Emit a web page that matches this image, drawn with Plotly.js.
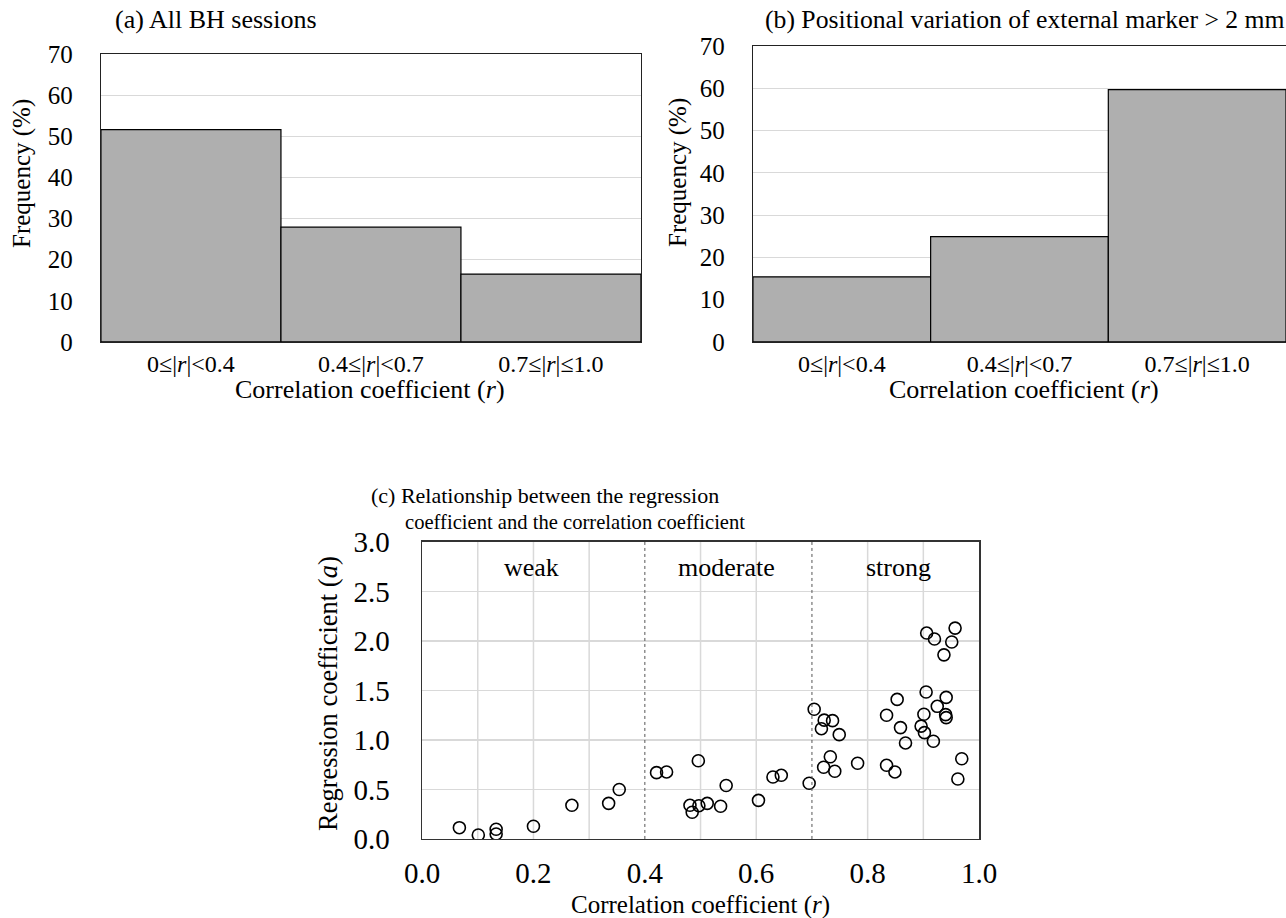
<!DOCTYPE html>
<html>
<head>
<meta charset="utf-8">
<script src="https://cdn.plot.ly/plotly-3.0.1.min.js"></script>
<style>html,body{margin:0;padding:0;background:#fff;}#chart{width:1286px;height:918px;}</style>
</head>
<body>
<div id="chart"></div>
<script>
// ---- data ----
var categories = ["0≤|<i>r</i>|&lt;0.4", "0.4≤|<i>r</i>|&lt;0.7", "0.7≤|<i>r</i>|≤1.0"];
var freqAll = [51.6, 27.9, 16.5];
var freqMarker = [15.4, 24.9, 59.7];
var corrR = [0.067,0.101,0.133,0.133,0.200,0.269,0.335,0.354,0.421,0.439,0.496,0.481,0.485,0.497,0.512,0.546,0.536,0.604,0.630,0.645,0.695,0.704,0.722,0.737,0.717,0.733,0.721,0.741,
             0.749,0.782,0.834,0.853,0.859,0.868,0.834,0.849,0.906,0.920,0.957,0.951,0.937,0.905,0.941,0.925,0.901,0.940,0.941,0.896,0.902,0.918,0.969,0.962];
var regA = [0.114,0.040,0.098,0.050,0.128,0.340,0.360,0.500,0.670,0.677,0.790,0.340,0.270,0.336,0.360,0.540,0.330,0.390,0.626,0.643,0.563,1.310,1.200,1.195,1.114,0.830,0.724,0.684,
            1.054,0.765,1.250,1.410,1.125,0.970,0.744,0.677,2.080,2.020,2.130,1.990,1.860,1.485,1.430,1.340,1.260,1.256,1.226,1.140,1.074,0.987,0.810,0.606];
var freqTicks = [0,10,20,30,40,50,60,70];
var rTicks = [0,0.2,0.4,0.6,0.8,1.0];
var rTickText = ["0.0","0.2","0.4","0.6","0.8","1.0"];
var aTicks = [0,0.5,1,1.5,2,2.5,3];
var aTickText = ["0.0","0.5","1.0","1.5","2.0","2.5","3.0"];
var bounds = [0.4, 0.7];
var zoneLabels = [{x:0.196, t:"weak"},{x:0.546, t:"moderate"},{x:0.855, t:"strong"}];

var F = "Liberation Serif, Times New Roman, serif";
var traces = [
  {type:"bar", x:categories, y:freqAll, xaxis:"x", yaxis:"y", width:1,
   marker:{color:"#afafaf", line:{color:"#000", width:1.2}}, hoverinfo:"y"},
  {type:"bar", x:categories, y:freqMarker, xaxis:"x2", yaxis:"y2", width:1,
   marker:{color:"#afafaf", line:{color:"#000", width:1.2}}, hoverinfo:"y"},
  {type:"scatter", mode:"markers", x:corrR, y:regA, xaxis:"x3", yaxis:"y3",
   marker:{symbol:"circle-open", size:12, color:"#000", line:{width:1.6, color:"#000"}}}
];

function barY(dom, anchor){
  return {domain:dom, anchor:anchor, range:[0,70], tickvals:freqTicks, showgrid:true, gridcolor:"#d9d9d9", gridwidth:1.2,
    showline:true, linecolor:"#222", linewidth:1.3, mirror:true, ticks:"", ticklabelstandoff:22,
    tickfont:{family:F, size:25, color:"#000"}, zeroline:false, fixedrange:true};
}
function barX(dom, anchor){
  return {domain:dom, anchor:anchor, type:"category", range:[-0.5,2.5], showline:true, linecolor:"#222", linewidth:1.3,
    mirror:true, ticks:"", ticklabelstandoff:0, tickfont:{family:F, size:24, color:"#000"}, fixedrange:true};
}

function ann(x, y, text, size, extra){
  var a = {xref:"paper", yref:"paper", x:x/1286, y:1-y/918, xanchor:"center", yanchor:"middle", showarrow:false,
    text:text, font:{family:F, size:size, color:"#000"}, borderpad:0};
  for (var k in (extra||{})) a[k] = extra[k];
  return a;
}

var layout = {
  width:1286, height:918, margin:{l:0,r:0,t:0,b:0}, showlegend:false,
  paper_bgcolor:"#fff", plot_bgcolor:"#fff", bargap:0,
  xaxis: barX([0.0785,0.4984],"y"),
  yaxis: barY([0.6275,0.9412],"x"),
  xaxis2: barX([0.5855,1.0],"y2"),
  yaxis2: barY([0.6275,0.9499],"x2"),
  xaxis3: {domain:[0.3282,0.7613], anchor:"y3", range:[0,1], tickvals:rTicks, ticktext:rTickText,
    showgrid:false, showline:true, linecolor:"#333", linewidth:1.5, mirror:true, ticks:"",
    ticklabelstandoff:8, tickfont:{family:F, size:29, color:"#000"}, zeroline:false, fixedrange:true},
  yaxis3: {domain:[0.0861,0.4096], anchor:"x3", range:[0,3], tickvals:aTicks, ticktext:aTickText,
    showgrid:true, gridcolor:"#d9d9d9", gridwidth:1.5, showline:true, linecolor:"#333", linewidth:1.5, mirror:true,
    ticks:"", ticklabelstandoff:25, tickfont:{family:F, size:29, color:"#000"}, zeroline:false, fixedrange:true},
  shapes: [],
  annotations: [
    ann(114, 20, "(a) All BH sessions", 26, {xanchor:"left"}),
    ann(764, 20, "(b) Positional variation of external marker &gt; 2 mm", 25.7, {xanchor:"left"}),
    ann(370, 495, "(c) Relationship between the regression", 22, {xanchor:"left"}),
    ann(404, 522, "coefficient and the correlation coefficient", 20.6, {xanchor:"left"}),
    ann(22, 174, "Frequency (%)", 25, {textangle:-90}),
    ann(678, 173, "Frequency (%)", 25, {textangle:-90}),
    ann(328, 694, "Regression coefficient (<i>a</i>)", 26.5, {textangle:-90}),
    ann(370, 389, "Correlation coefficient (<i>r</i>)", 26),
    ann(1024, 389, "Correlation coefficient (<i>r</i>)", 26),
    ann(700, 905, "Correlation coefficient (<i>r</i>)", 25)
  ]
};
// vertical grid lines every 0.1 for panel (c)
for (var g=1; g<10; g++){
  var gv = g/10;
  if (Math.abs(gv-0.4)<1e-9 || Math.abs(gv-0.7)<1e-9) continue;
  layout.shapes.push({type:"line", xref:"x3", yref:"y3 domain", x0:gv, x1:gv, y0:0, y1:1, layer:"below",
    line:{color:"#d9d9d9", width:1.5}});
}
bounds.forEach(function(b){
  layout.shapes.push({type:"line", xref:"x3", yref:"y3 domain", x0:b, x1:b, y0:0, y1:1,
    line:{color:"#555", width:1, dash:"dot"}});
});
zoneLabels.forEach(function(z){
  layout.annotations.push({xref:"x3", yref:"y3", x:z.x, y:2.74, showarrow:false, text:z.t,
    font:{family:F, size:26, color:"#000"}});
});
Plotly.newPlot("chart", traces, layout, {displayModeBar:false, staticPlot:true});
</script>
</body>
</html>
